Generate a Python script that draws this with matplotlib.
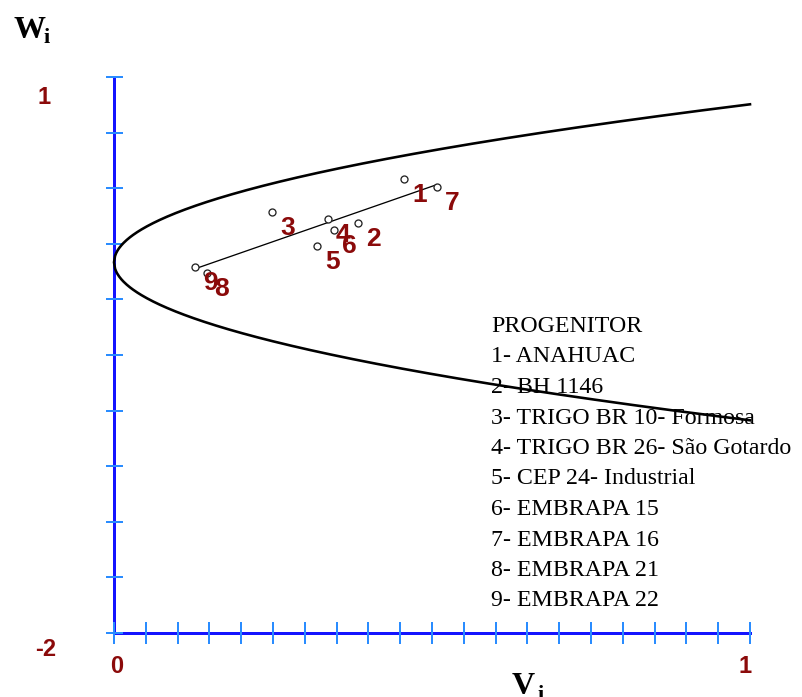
import numpy as np
import matplotlib
matplotlib.use("Agg")
import matplotlib.pyplot as plt

# Wr / Vr diallel graph: array variance (Vi) vs. parent-offspring covariance (Wi)
progenitors = ["1", "2", "3", "4", "5", "6", "7", "8", "9"]
vi = [0.4565, 0.3841, 0.2489, 0.3360, 0.3196, 0.3459, 0.5074, 0.1457, 0.1274]
wi = [0.448, 0.214, 0.270, 0.232, 0.088, 0.174, 0.405, -0.059, -0.027]
names = [
    "1- ANAHUAC",
    "2- BH 1146",
    "3- TRIGO BR 10- Formosa",
    "4- TRIGO BR 26- São Gotardo",
    "5- CEP 24- Industrial",
    "6- EMBRAPA 15",
    "7- EMBRAPA 16",
    "8- EMBRAPA 21",
    "9- EMBRAPA 22",
]
vol0 = 0.727  # parental variance defining the limiting parabola Wi^2 = Vi * VoL0
x_ticks = np.round(np.arange(0, 1.0001, 0.05), 3)
y_ticks = np.round(np.arange(-2, 1.0001, 0.3), 3)

W, H, DPI = 803, 697, 100
fig = plt.figure(figsize=(W / DPI, H / DPI), dpi=DPI)
fig.patch.set_facecolor("white")
ax = fig.add_axes([0, 0, 1, 1])
ax.set_facecolor("white")

px_x, x0px = 636.0, 114.0
px_y, y0px = 185.3, 262.3
ax.set_xlim(-x0px / px_x, (W - x0px) / px_x)
ax.set_ylim(-(H - y0px) / px_y, y0px / px_y)

pt = 72.0 / DPI  # points per pixel
axis_blue = "#1414ff"
tick_blue = "#2a8cff"
dark_red = "#8b0a0a"

for s in ("top", "right"):
    ax.spines[s].set_visible(False)
ax.spines["left"].set_position(("data", 0))
ax.spines["left"].set_bounds(-2, 1)
ax.spines["bottom"].set_position(("data", -2))
ax.spines["bottom"].set_bounds(0, 1)
for s in ("left", "bottom"):
    ax.spines[s].set_color(axis_blue)
    ax.spines[s].set_linewidth(3 * pt)
    ax.spines[s].set_zorder(1)

ax.set_xticks(x_ticks)
ax.set_yticks(y_ticks)
ax.tick_params(axis="x", direction="inout", length=23 * pt, width=2 * pt,
               color=tick_blue, labelbottom=False)
ax.tick_params(axis="y", direction="inout", length=17 * pt, width=2 * pt,
               color=tick_blue, labelleft=False)

# limiting parabola
v = np.linspace(0, 1, 600)
w = np.sqrt(v * vol0)
ax.plot(np.r_[v[::-1], v], np.r_[w[::-1], -w], color="black", lw=2.6 * pt,
        zorder=3, solid_joinstyle="round")

# regression line Wi = a + b Vi over the range of the parents
b, a = np.polyfit(vi, wi, 1)
vr = np.array([min(vi), max(vi)])
ax.plot(vr, a + b * vr, color="black", lw=1.3 * pt, zorder=3)

ax.plot(vi, wi, linestyle="none", marker="o", markersize=7 * pt,
        markerfacecolor="white", markeredgecolor="#222222",
        markeredgewidth=1.3 * pt, zorder=4)

for lab, xv, yv in zip(progenitors, vi, wi):
    ax.annotate(lab, (xv, yv), xytext=(15, -16), textcoords="offset pixels",
                ha="center", va="center", color=dark_red, fontsize=19,
                fontweight="bold", family="Liberation Sans", zorder=5)

# axis end labels
num_kw = dict(textcoords="offset pixels", ha="center", va="center",
              color=dark_red, fontsize=17, fontweight="bold",
              family="Liberation Sans")
ax.annotate("1", (0, 1), xytext=(-70, -20), **num_kw)
ax.annotate("-2", (0, -2), xytext=(-68, -17), **num_kw)
ax.annotate("0", (0, -2), xytext=(3, -34), **num_kw)
ax.annotate("1", (1, -2), xytext=(-5, -34), **num_kw)

# axis titles
title_kw = dict(family="Liberation Serif", fontweight="bold", color="black",
                transform=None)
ax.text(13, H - 38, "W", fontsize=23, ha="left", va="baseline", **title_kw)
ax.text(43, H - 43, "i", fontsize=16, ha="left", va="baseline", **title_kw)
ax.text(512, H - 694, "V", fontsize=23, ha="left", va="baseline", **title_kw)
ax.text(537, H - 700, "i", fontsize=16, ha="left", va="baseline", **title_kw)

# progenitor key
leg_kw = dict(family="Liberation Serif", fontsize=17.2, color="black",
              ha="left", va="baseline", transform=None, zorder=2)
ax.text(491, H - 331.7, "PROGENITOR", **leg_kw)
for i, nm in enumerate(names):
    ax.text(491, H - (362.5 + 30.5 * i), nm, **leg_kw)

fig.savefig("out.png", dpi=DPI)
